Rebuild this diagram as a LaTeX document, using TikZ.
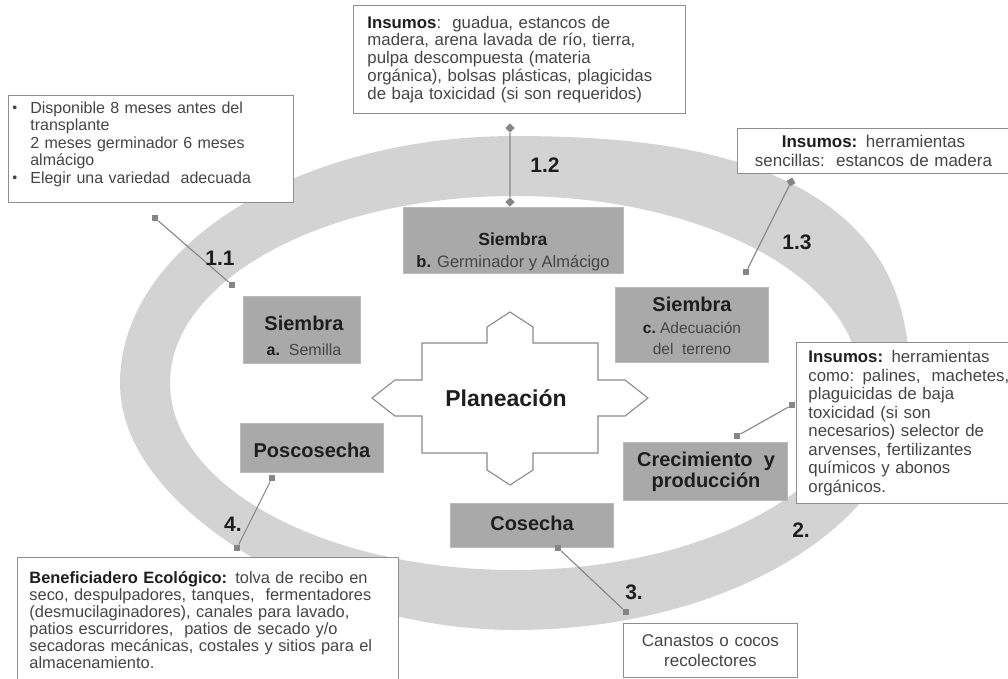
\documentclass[tikz,border=0pt]{standalone}
\usepackage{fontspec}
\setmainfont{Liberation Sans}
\definecolor{ringgray}{HTML}{D3D3D3}
\definecolor{stagegray}{HTML}{A9A9A9}
\definecolor{txtgray}{HTML}{454545}
\definecolor{boldtxt}{HTML}{1E1E1E}
\definecolor{edgegray}{HTML}{8E8E8E}
\definecolor{markgray}{HTML}{858585}
\definecolor{stargray}{HTML}{8A8A8A}
\newcommand\hb[1]{\textcolor{boldtxt}{\textbf{#1}}}
\newcommand\smallbul{\raisebox{1pt}{\fontsize{14}{14}\selectfont •}}
\begin{document}
\begin{tikzpicture}[x=1pt,y=-1pt,
  infobox/.style={draw=edgegray, line width=0.9pt, fill=white, text=txtgray, inner ysep=0pt, anchor=north west},
  stagebox/.style={fill=stagegray, draw=stagegray!80!white, line width=0.6pt, inner sep=0pt, anchor=north west},
  stagetext/.style={text=txtgray, align=center, inner sep=0pt},
  numlabel/.style={text=boldtxt, font=\fontsize{21}{21}\selectfont\bfseries, inner sep=0pt},
  marker/.style={rectangle, fill=markgray, minimum size=6.5pt, inner sep=0pt},
  conn/.style={draw=markgray, line width=1.1pt},
]
\useasboundingbox (0,0) rectangle (1008,679);
\fill[white] (0,0) rectangle (1008,679);

% ring (outer boundary slightly fuller at the upper right)
\fill[ringgray, even odd rule]
  plot[domain=0:358, samples=180, variable=\t]
    ({515+395*cos(\t)*(1+0.07*(\t<90.5)*(sin(2*\t))^2-0.03*(\t>179.5)*(\t<270.5)*(sin(2*\t))^2)},
     {383-247*sin(\t)*(1+0.07*(\t<90.5)*(sin(2*\t))^2-0.03*(\t>179.5)*(\t<270.5)*(sin(2*\t))^2)}) -- cycle
  (515,383) ellipse [x radius=345, y radius=187];

% central star
\draw[draw=stargray, line width=1.1pt, fill=white]
  (372,398) -- (395,380) -- (422,380) -- (422,343) -- (487,343) -- (487,327) -- (510,312)
  -- (533,327) -- (533,343) -- (598,343) -- (598,380) -- (625,380) -- (648,398)
  -- (625,416) -- (598,416) -- (598,453) -- (533,453) -- (533,470) -- (510,485)
  -- (487,470) -- (487,453) -- (422,453) -- (422,416) -- (395,416) -- cycle;
\node[text=boldtxt, font=\fontsize{23}{23}\selectfont\bfseries, inner sep=0pt] (plan) at (506,398) {Planeación};

% stage boxes
\node[stagebox, minimum width=117, minimum height=67] (sA) at (243,296) {};
\node[stagetext, font=\fontsize{16}{25}\selectfont] (sAt) at (304,336)
  {{\fontsize{20}{25}\selectfont\hb{Siembra}}\\\hb{a.}\ \ Semilla};

\node[stagebox, minimum width=220, minimum height=66] (sB) at (403,207) {};
\node[stagetext, font=\fontsize{16.5}{22}\selectfont] (sBt) at (513,252)
  {{\fontsize{17.5}{22}\selectfont\hb{Siembra}}\\\hb{b.} Germinador y Almácigo};

\node[stagebox, minimum width=153, minimum height=75] (sC) at (615,287) {};
\node[stagetext, font=\fontsize{15.5}{21.5}\selectfont] (sCt) at (692,326)
  {{\fontsize{20}{21.5}\selectfont\hb{Siembra}}\\\hb{c.}\ Adecuación\\del\ \ terreno};

\node[stagebox, minimum width=143, minimum height=49] (sP) at (240,423) {};
\node[stagetext, font=\fontsize{20}{21}\selectfont\bfseries, text=boldtxt] (sPt) at (312,450) {Poscosecha};

\node[stagebox, minimum width=164, minimum height=58] (sG) at (623,442) {};
\node[stagetext, font=\fontsize{20}{21.5}\selectfont\bfseries, text=boldtxt] (sGt) at (706,472) {Crecimiento\ \ y\\producción};

\node[stagebox, minimum width=163, minimum height=44] (sH) at (450,503) {};
\node[stagetext, font=\fontsize{20}{21}\selectfont\bfseries, text=boldtxt] (sHt) at (532,523) {Cosecha};

% info boxes
\node[infobox, minimum width=285, minimum height=107, inner xsep=4pt, text width=277pt, align=left,
      font=\fontsize{16}{17.5}\selectfont] (iA) at (8,95)
  {\begin{tabular}{@{}l@{\hspace{13pt}}l@{}}
   \smallbul & Disponible 8 meses antes del\\
     & transplante\\
     & 2 meses germinador 6 meses\\
     & almácigo\\
   \smallbul & Elegir una variedad\ \ adecuada
   \end{tabular}\par\vskip 8pt\hrule height 0pt width 0pt};

\node[infobox, minimum height=108, inner xsep=14pt, text width=304pt, align=left,
      font=\fontsize{16.8}{17.8}\selectfont] (iB) at (353,5)
  {\hb{Insumos}:\ \ guadua, estancos de\\
   madera, arena lavada de río, tierra,\\
   pulpa descompuesta (materia\\
   orgánica), bolsas plásticas, plagicidas\\
   de baja toxicidad (si son requeridos)};

\node[infobox, minimum height=45, inner xsep=5pt, text width=262pt, align=center,
      font=\fontsize{17}{19}\selectfont] (iC) at (737,128)
  {\hb{Insumos:} herramientas\\
   sencillas:\ \ estancos de madera};

\node[infobox, minimum height=161, inner xsep=12pt, text width=205pt, align=left,
      font=\fontsize{16.8}{18.5}\selectfont] (iD) at (796,342)
  {\hb{Insumos:} herramientas\\
   como: palines,\ \ machetes,\\
   plaguicidas de baja\\
   toxicidad (si son\\
   necesarios) selector de\\
   arvenses, fertilizantes\\
   químicos y abonos\\
   orgánicos.};

\node[infobox, minimum height=126, inner xsep=12pt, text width=357pt, align=left,
      font=\fontsize{16.4}{17}\selectfont] (iE) at (17,557)
  {\hb{Beneficiadero Ecológico:} tolva de recibo en\\
   seco, despulpadores, tanques,\ \ fermentadores\\
   (desmucilaginadores), canales para lavado,\\
   patios escurridores,\ \ patios de secado y/o\\
   secadoras mecánicas, costales y sitios para el\\
   almacenamiento.};

\node[infobox, minimum height=54, inner xsep=5pt, text width=164pt, align=center,
      font=\fontsize{17}{20}\selectfont] (iF) at (623,623)
  {Canastos o cocos\\ recolectores};

% connectors
\node[marker] (m11a) at (155,218) {};
\node[marker] (m11b) at (232,285) {};
\draw[conn] (m11a) -- (m11b);
\node[numlabel] (n11) at (220,258) {1.1};

\node[marker, rotate=45] (m12a) at (510,128) {};
\node[marker, rotate=45] (m12b) at (510,202) {};
\draw[conn] (m12a) -- (m12b);
\node[numlabel] (n12) at (545,165) {1.2};

\node[marker, rotate=30] (m13a) at (791,182) {};
\node[marker] (m13b) at (746,272) {};
\draw[conn] (m13a) -- (m13b);
\node[numlabel] (n13) at (797,242) {1.3};

\node[marker] (m2a) at (792,405) {};
\node[marker] (m2b) at (737,436) {};
\draw[conn] (m2a) -- (m2b);
\node[numlabel] (n2) at (801,530) {2.};

\node[marker] (m3a) at (558,548) {};
\node[marker] (m3b) at (626,612) {};
\draw[conn] (m3a) -- (m3b);
\node[numlabel] (n3) at (634,592) {3.};

\node[marker] (m4a) at (272,478) {};
\node[marker] (m4b) at (237,548) {};
\draw[conn] (m4a) -- (m4b);
\node[numlabel] (n4) at (233,524) {4.};
\end{tikzpicture}
\end{document}
